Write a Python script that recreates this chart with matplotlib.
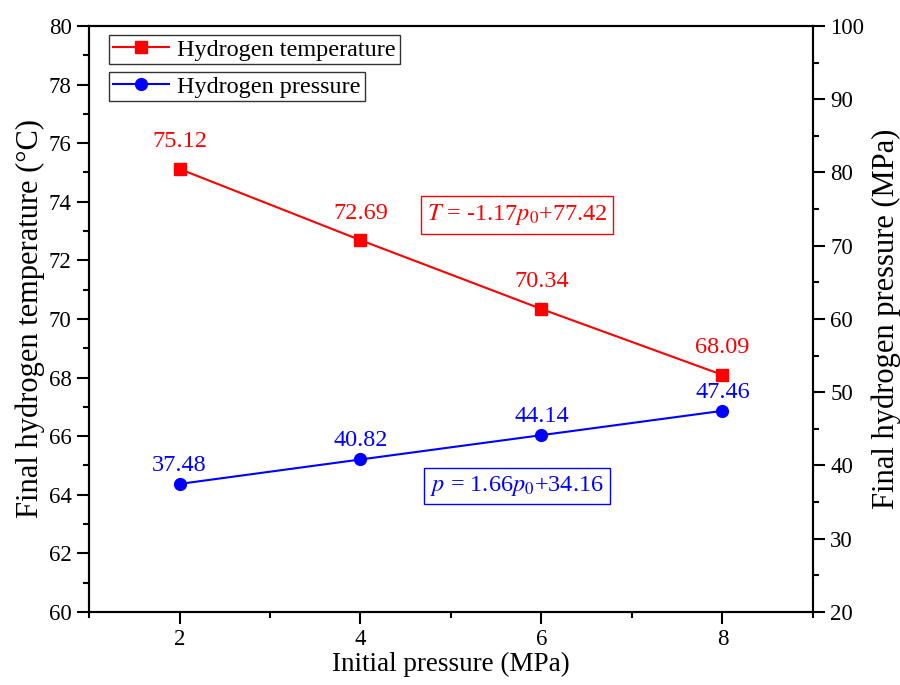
import matplotlib
matplotlib.use("Agg")
import matplotlib.pyplot as plt
from matplotlib.ticker import MultipleLocator

plt.rcParams['font.family'] = ['Liberation Serif', 'DejaVu Serif']
plt.rcParams['mathtext.fontset'] = 'stix'

p0 = [2, 4, 6, 8]
temp = [75.12, 72.69, 70.34, 68.09]
pres = [37.48, 40.82, 44.14, 47.46]
temp_labels = ["75.12", "72.69", "70.34", "68.09"]
pres_labels = ["37.48", "40.82", "44.14", "47.46"]

fig = plt.figure(figsize=(9, 6.85), dpi=100)
ax = fig.add_axes([0.0989, 0.1066, 0.8044, 0.8555])
ax2 = ax.twinx()

l1, = ax.plot(p0, temp, color='red', lw=1.5, marker='s', ms=8.5, label='Hydrogen temperature')
l2, = ax2.plot(p0, pres, color='blue', lw=1.5, marker='o', ms=8.5, label='Hydrogen pressure')

# value labels
for x, y, s in zip(p0, temp, temp_labels):
    ax.annotate(s, (x, y), xytext=(0, 19.5), textcoords='offset points',
                ha='center', va='center', color='red', fontsize=17.5)
for x, y, s in zip(p0, pres, pres_labels):
    ax2.annotate(s, (x, y), xytext=(0, 13.5), textcoords='offset points',
                 ha='center', va='center', color='blue', fontsize=17.5)

# fitted equations
ax.text(5.73, 73.55, r"$T$ = -1.17$p_0$+77.42", color='red', fontsize=17.5,
        ha='center', va='center',
        bbox=dict(boxstyle='square,pad=0.25', fc='white', ec='red', lw=1))
ax.text(5.73, 64.3, r"$p$ = 1.66$p_0$+34.16", color='blue', fontsize=17.5,
        ha='center', va='center',
        bbox=dict(boxstyle='square,pad=0.25', fc='white', ec='blue', lw=1))

ax.set_xlim(1, 9)
ax.set_ylim(60, 80)
ax2.set_ylim(20, 100)
ax.xaxis.set_major_locator(MultipleLocator(2))
ax.xaxis.set_minor_locator(MultipleLocator(1))
ax.yaxis.set_major_locator(MultipleLocator(2))
ax.yaxis.set_minor_locator(MultipleLocator(1))
ax2.yaxis.set_major_locator(MultipleLocator(10))
ax2.yaxis.set_minor_locator(MultipleLocator(5))

for a in (ax, ax2):
    for sp in a.spines.values():
        sp.set_linewidth(1.5)
    a.tick_params(which='major', direction='out', length=8.5, width=1.5, labelsize=16.5, pad=4)
    a.tick_params(which='minor', direction='out', length=4.5, width=1.5)

ax.set_xlabel("Initial pressure (MPa)", fontsize=19.5, labelpad=1)
ax.set_ylabel("Final hydrogen temperature (°C)", fontsize=22, labelpad=3)
ax2.set_ylabel("Final hydrogen pressure (MPa)", fontsize=22, labelpad=5)

leg_kw = dict(fontsize=17.4, frameon=True, fancybox=False, edgecolor='black',
              handlelength=2.35, borderpad=0.15, borderaxespad=0, handletextpad=0.33,
              loc='upper left')
leg1 = ax2.legend(handles=[l1], bbox_to_anchor=(0.0276, 0.9846), **leg_kw)
leg1.get_frame().set_linewidth(1)
ax2.add_artist(leg1)
leg2 = ax2.legend(handles=[l2], bbox_to_anchor=(0.0276, 0.9215), **leg_kw)
leg2.get_frame().set_linewidth(1)

fig.savefig("out.png", dpi=100)
